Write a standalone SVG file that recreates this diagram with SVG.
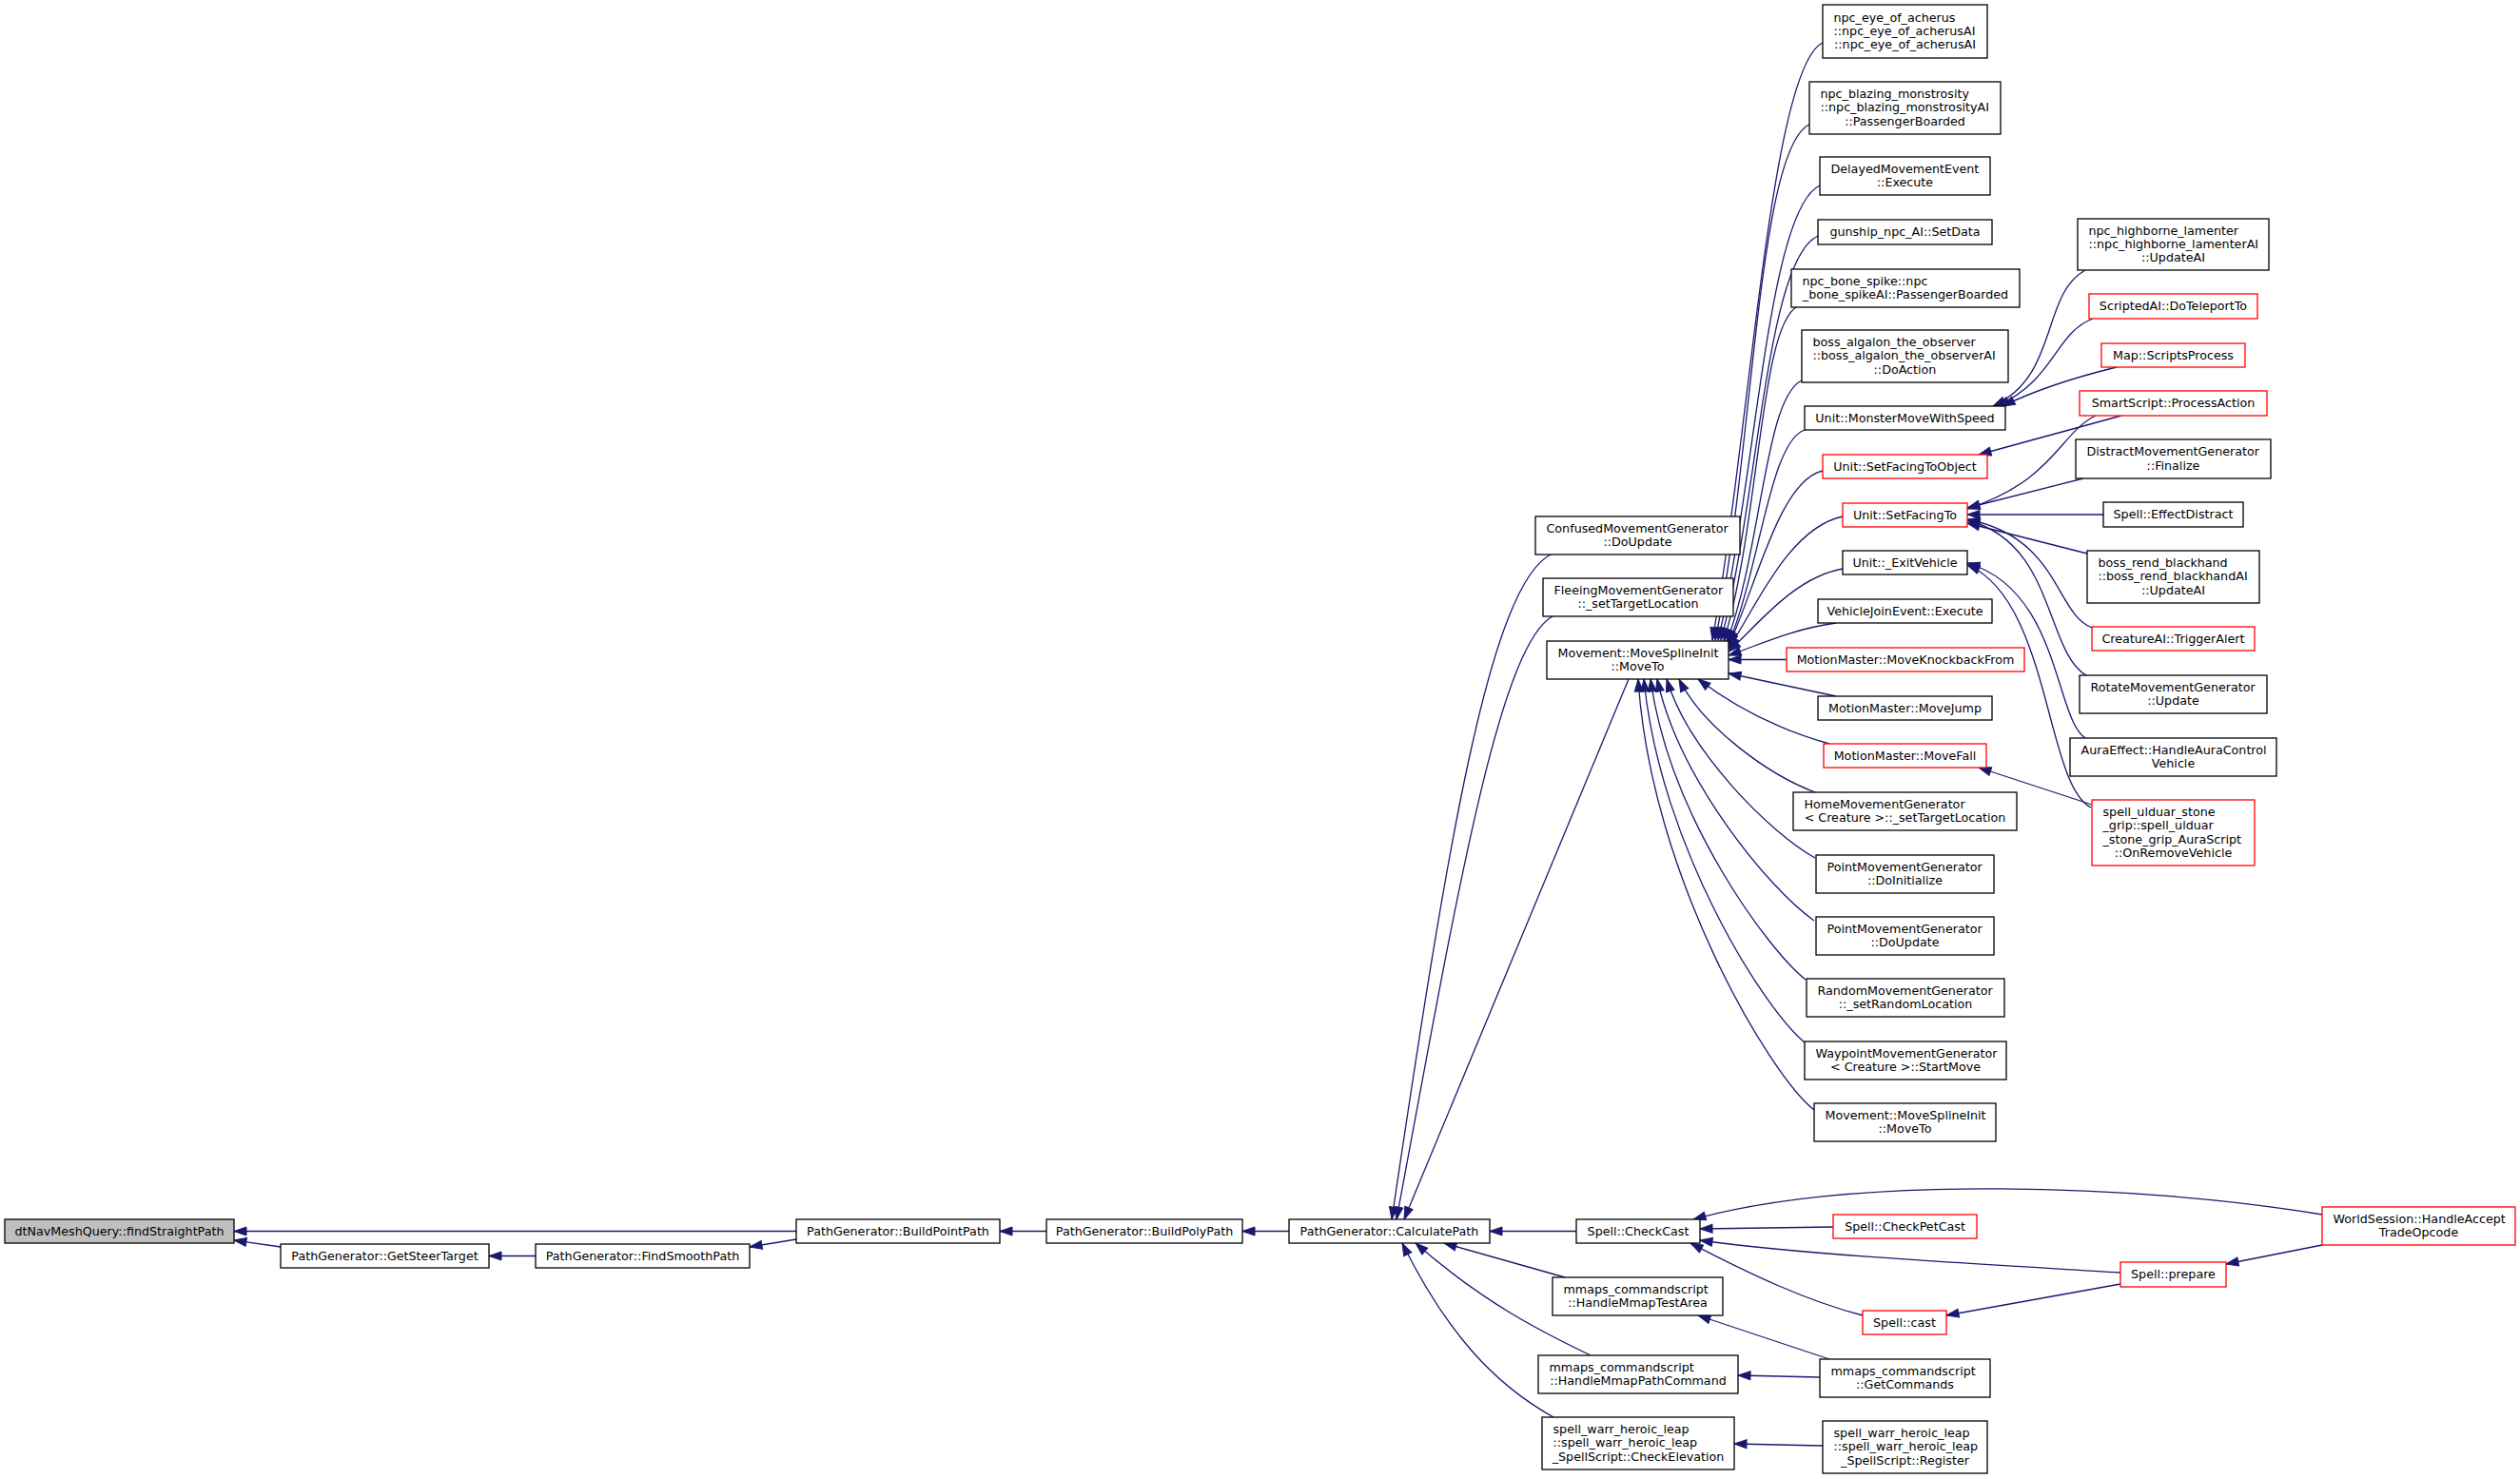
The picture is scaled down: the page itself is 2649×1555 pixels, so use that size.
<svg xmlns="http://www.w3.org/2000/svg" width="2649" height="1555" viewBox="0 0 2649 1555">
<style>
.n rect{fill:#fff;stroke:#000;stroke-width:1.3}
.n.r rect{stroke:#f00}
.n.g rect{fill:#bfbfbf}
text{font-family:"DejaVu Sans","Liberation Sans",sans-serif;font-size:12.7px;fill:#000}
.m{text-anchor:middle}
#edges path{fill:none;stroke:#191970;stroke-width:1.3;marker-end:url(#a)}
</style>
<defs>
<marker id="a" markerUnits="userSpaceOnUse" markerWidth="14" markerHeight="10" refX="13" refY="4.5" orient="auto" overflow="visible">
<path d="M0,0 L13,4.5 L0,9 z" fill="#191970" stroke="#191970" stroke-width="1"/>
</marker>
</defs>
<rect width="2649" height="1555" fill="#fff"/>
<g id="edges">
<path d="M837,1294.5 L246,1294.5"/>
<path d="M295,1311 L246,1304"/>
<path d="M563,1320.5 L514,1320.5"/>
<path d="M837,1303 L788,1311"/>
<path d="M1100,1294.5 L1051,1294.5"/>
<path d="M1355,1294.5 L1306,1294.5"/>
<path d="M1657,1294.5 L1566,1294.5"/>
<path d="M1632,582 C1565,612 1520,900 1463,1282"/>
<path d="M1632,648 C1575,680 1530,950 1468,1282"/>
<path d="M1712,714 L1476,1282"/>
<path d="M1645,1343 L1518,1307"/>
<path d="M1672,1425 C1620,1400 1560,1370 1488,1307"/>
<path d="M1633,1490 C1570,1455 1520,1400 1474,1307"/>
<path d="M2441,1277 C2250,1245 1950,1235 1780,1282"/>
<path d="M1927,1290 L1787,1292"/>
<path d="M2229,1338 C2100,1330 1900,1320 1787,1304"/>
<path d="M1958,1383 C1900,1368 1840,1340 1777,1307"/>
<path d="M2441,1309 L2340,1329"/>
<path d="M2229,1350 L2046,1383"/>
<path d="M1923,1429 L1785,1383"/>
<path d="M1913,1448 L1827,1446"/>
<path d="M1916,1520 L1823,1518"/>
<path d="M1916,45 C1861,70 1840,453 1800,673"/>
<path d="M1902,131 C1847,156 1843,483 1803,673"/>
<path d="M1913,195 C1858,220 1846,505 1806,673"/>
<path d="M1911,248 C1856,273 1849,524 1809,673"/>
<path d="M1890,322 C1850,340 1850,550 1812,674"/>
<path d="M1894,400 C1855,418 1852,578 1815,675"/>
<path d="M1897,452 C1860,465 1850,598 1817,677"/>
<path d="M1916,495 C1870,505 1845,620 1817,679"/>
<path d="M1937,543 C1880,555 1845,640 1817,682"/>
<path d="M1937,598 C1885,607 1845,660 1817,685"/>
<path d="M1930,655 C1880,662 1845,680 1817,689"/>
<path d="M1878,693.5 L1817,693.5"/>
<path d="M1930,732 L1817,708"/>
<path d="M1923,782 C1880,770 1830,748 1785,714"/>
<path d="M1908,833 C1860,815 1790,765 1765,714"/>
<path d="M1908,902 C1860,875 1775,790 1752,714"/>
<path d="M1907,968 C1860,935 1765,820 1742,714"/>
<path d="M1898,1030 C1860,1000 1755,860 1735,714"/>
<path d="M1897,1096 C1855,1062 1745,890 1728,714"/>
<path d="M1907,1167 C1860,1130 1735,920 1722,714"/>
<path d="M2192,284 C2145,310 2165,395 2095,427"/>
<path d="M2200,335 C2160,350 2160,400 2099,427"/>
<path d="M2225,386 C2180,397 2140,410 2105,427"/>
<path d="M2230,437 L2080,478"/>
<path d="M2203,437 C2165,455 2160,505 2068,535"/>
<path d="M2190,503 L2068,534"/>
<path d="M2211,541 L2068,541"/>
<path d="M2194,582 L2068,550"/>
<path d="M2199,660 C2160,645 2165,565 2068,546"/>
<path d="M2193,710 C2150,685 2160,570 2068,547"/>
<path d="M2192,776 C2160,755 2165,620 2068,592"/>
<path d="M2198,849 C2150,825 2155,630 2068,594"/>
<path d="M2199,846 L2080,807"/>
</g>
<g id="n0" class="n g"><rect x="5" y="1282" width="241" height="25"/><text class="m" x="125.5" y="1298.8">dtNavMeshQuery::findStraightPath</text></g>
<g id="n1" class="n"><rect x="295" y="1308" width="219" height="25"/><text class="m" x="404.5" y="1324.8">PathGenerator::GetSteerTarget</text></g>
<g id="n2" class="n"><rect x="563" y="1308" width="225" height="25"/><text class="m" x="675.5" y="1324.8">PathGenerator::FindSmoothPath</text></g>
<g id="n3" class="n"><rect x="837" y="1282" width="214" height="25"/><text class="m" x="944" y="1298.8">PathGenerator::BuildPointPath</text></g>
<g id="n4" class="n"><rect x="1100" y="1282" width="206" height="25"/><text class="m" x="1203" y="1298.8">PathGenerator::BuildPolyPath</text></g>
<g id="n5" class="n"><rect x="1355" y="1282" width="211" height="25"/><text class="m" x="1460.5" y="1298.8">PathGenerator::CalculatePath</text></g>
<g id="n6" class="n"><rect x="1614" y="543" width="215" height="40"/><text x="1625.5" y="559.7">ConfusedMovementGenerator</text><text class="m" x="1721.5" y="574">::DoUpdate</text></g>
<g id="n7" class="n"><rect x="1622" y="608" width="200" height="40"/><text x="1633.5" y="624.7">FleeingMovementGenerator</text><text class="m" x="1722" y="639">::_setTargetLocation</text></g>
<g id="n8" class="n"><rect x="1626" y="674" width="191" height="40"/><text x="1637.5" y="690.7">Movement::MoveSplineInit</text><text class="m" x="1721.5" y="705">::MoveTo</text></g>
<g id="n9" class="n"><rect x="1657" y="1282" width="130" height="25"/><text class="m" x="1722" y="1298.8">Spell::CheckCast</text></g>
<g id="n10" class="n"><rect x="1632" y="1343" width="179" height="40"/><text x="1643.5" y="1359.7">mmaps_commandscript</text><text class="m" x="1721.5" y="1374">::HandleMmapTestArea</text></g>
<g id="n11" class="n"><rect x="1617" y="1425" width="210" height="40"/><text x="1628.5" y="1441.7">mmaps_commandscript</text><text class="m" x="1722" y="1456">::HandleMmapPathCommand</text></g>
<g id="n12" class="n"><rect x="1621" y="1490" width="202" height="55"/><text x="1632.5" y="1507">spell_warr_heroic_leap</text><text x="1632.5" y="1521.3">::spell_warr_heroic_leap</text><text class="m" x="1722" y="1535.6">_SpellScript::CheckElevation</text></g>
<g id="n13" class="n"><rect x="1916" y="5" width="173" height="56"/><text x="1927.5" y="22.5">npc_eye_of_acherus</text><text x="1927.5" y="36.8">::npc_eye_of_acherusAI</text><text class="m" x="2002.5" y="51.1">::npc_eye_of_acherusAI</text></g>
<g id="n14" class="n"><rect x="1902" y="86" width="201" height="55"/><text x="1913.5" y="103">npc_blazing_monstrosity</text><text x="1913.5" y="117.3">::npc_blazing_monstrosityAI</text><text class="m" x="2002.5" y="131.6">::PassengerBoarded</text></g>
<g id="n15" class="n"><rect x="1913" y="165" width="179" height="40"/><text x="1924.5" y="181.7">DelayedMovementEvent</text><text class="m" x="2002.5" y="196">::Execute</text></g>
<g id="n16" class="n"><rect x="1911" y="231" width="183" height="26"/><text class="m" x="2002.5" y="248.3">gunship_npc_AI::SetData</text></g>
<g id="n17" class="n"><rect x="1883" y="283" width="240" height="40"/><text x="1894.5" y="299.7">npc_bone_spike::npc</text><text class="m" x="2003" y="314">_bone_spikeAI::PassengerBoarded</text></g>
<g id="n18" class="n"><rect x="1894" y="347" width="217" height="55"/><text x="1905.5" y="364">boss_algalon_the_observer</text><text x="1905.5" y="378.3">::boss_algalon_the_observerAI</text><text class="m" x="2002.5" y="392.6">::DoAction</text></g>
<g id="n19" class="n"><rect x="1897" y="427" width="211" height="25"/><text class="m" x="2002.5" y="443.8">Unit::MonsterMoveWithSpeed</text></g>
<g id="n20" class="n r"><rect x="1916" y="478" width="173" height="25"/><text class="m" x="2002.5" y="494.8">Unit::SetFacingToObject</text></g>
<g id="n21" class="n r"><rect x="1937" y="529" width="131" height="25"/><text class="m" x="2002.5" y="545.8">Unit::SetFacingTo</text></g>
<g id="n22" class="n"><rect x="1937" y="579" width="131" height="25"/><text class="m" x="2002.5" y="595.8">Unit::_ExitVehicle</text></g>
<g id="n23" class="n"><rect x="1911" y="630" width="183" height="25"/><text class="m" x="2002.5" y="646.8">VehicleJoinEvent::Execute</text></g>
<g id="n24" class="n r"><rect x="1878" y="681" width="250" height="25"/><text class="m" x="2003" y="697.8">MotionMaster::MoveKnockbackFrom</text></g>
<g id="n25" class="n"><rect x="1911" y="732" width="183" height="25"/><text class="m" x="2002.5" y="748.8">MotionMaster::MoveJump</text></g>
<g id="n26" class="n r"><rect x="1917" y="782" width="171" height="25"/><text class="m" x="2002.5" y="798.8">MotionMaster::MoveFall</text></g>
<g id="n27" class="n"><rect x="1885" y="833" width="235" height="40"/><text x="1896.5" y="849.7">HomeMovementGenerator</text><text class="m" x="2002.5" y="864">&lt; Creature &gt;::_setTargetLocation</text></g>
<g id="n28" class="n"><rect x="1909" y="899" width="187" height="40"/><text x="1920.5" y="915.7">PointMovementGenerator</text><text class="m" x="2002.5" y="930">::DoInitialize</text></g>
<g id="n29" class="n"><rect x="1909" y="964" width="187" height="40"/><text x="1920.5" y="980.7">PointMovementGenerator</text><text class="m" x="2002.5" y="995">::DoUpdate</text></g>
<g id="n30" class="n"><rect x="1899" y="1029" width="208" height="40"/><text x="1910.5" y="1045.7">RandomMovementGenerator</text><text class="m" x="2003" y="1060">::_setRandomLocation</text></g>
<g id="n31" class="n"><rect x="1897" y="1095" width="212" height="40"/><text x="1908.5" y="1111.7">WaypointMovementGenerator</text><text class="m" x="2003" y="1126">&lt; Creature &gt;::StartMove</text></g>
<g id="n32" class="n"><rect x="1907" y="1160" width="191" height="40"/><text x="1918.5" y="1176.7">Movement::MoveSplineInit</text><text class="m" x="2002.5" y="1191">::MoveTo</text></g>
<g id="n33" class="n r"><rect x="1927" y="1277" width="151" height="25"/><text class="m" x="2002.5" y="1293.8">Spell::CheckPetCast</text></g>
<g id="n34" class="n r"><rect x="1958" y="1378" width="88" height="25"/><text class="m" x="2002" y="1394.8">Spell::cast</text></g>
<g id="n35" class="n"><rect x="1913" y="1429" width="179" height="40"/><text x="1924.5" y="1445.7">mmaps_commandscript</text><text class="m" x="2002.5" y="1460">::GetCommands</text></g>
<g id="n36" class="n"><rect x="1916" y="1494" width="173" height="55"/><text x="1927.5" y="1511">spell_warr_heroic_leap</text><text x="1927.5" y="1525.3">::spell_warr_heroic_leap</text><text class="m" x="2002.5" y="1539.6">_SpellScript::Register</text></g>
<g id="n37" class="n"><rect x="2184" y="230" width="201" height="54"/><text x="2195.5" y="246.5">npc_highborne_lamenter</text><text x="2195.5" y="260.8">::npc_highborne_lamenterAI</text><text class="m" x="2284.5" y="275.1">::UpdateAI</text></g>
<g id="n38" class="n r"><rect x="2196" y="309" width="177" height="26"/><text class="m" x="2284.5" y="326.3">ScriptedAI::DoTeleportTo</text></g>
<g id="n39" class="n r"><rect x="2209" y="361" width="151" height="25"/><text class="m" x="2284.5" y="377.8">Map::ScriptsProcess</text></g>
<g id="n40" class="n r"><rect x="2186" y="411" width="197" height="26"/><text class="m" x="2284.5" y="428.3">SmartScript::ProcessAction</text></g>
<g id="n41" class="n"><rect x="2182" y="462" width="205" height="41"/><text x="2193.5" y="479.2">DistractMovementGenerator</text><text class="m" x="2284.5" y="493.5">::Finalize</text></g>
<g id="n42" class="n"><rect x="2211" y="528" width="147" height="26"/><text class="m" x="2284.5" y="545.3">Spell::EffectDistract</text></g>
<g id="n43" class="n"><rect x="2194" y="579" width="181" height="55"/><text x="2205.5" y="596">boss_rend_blackhand</text><text x="2205.5" y="610.3">::boss_rend_blackhandAI</text><text class="m" x="2284.5" y="624.6">::UpdateAI</text></g>
<g id="n44" class="n r"><rect x="2199" y="659" width="171" height="25"/><text class="m" x="2284.5" y="675.8">CreatureAI::TriggerAlert</text></g>
<g id="n45" class="n"><rect x="2186" y="710" width="197" height="40"/><text x="2197.5" y="726.7">RotateMovementGenerator</text><text class="m" x="2284.5" y="741">::Update</text></g>
<g id="n46" class="n"><rect x="2176" y="776" width="217" height="40"/><text x="2187.5" y="792.7">AuraEffect::HandleAuraControl</text><text class="m" x="2284.5" y="807">Vehicle</text></g>
<g id="n47" class="n r"><rect x="2199" y="841" width="171" height="69"/><text x="2210.5" y="857.9">spell_ulduar_stone</text><text x="2210.5" y="872.2">_grip::spell_ulduar</text><text x="2210.5" y="886.5">_stone_grip_AuraScript</text><text class="m" x="2284.5" y="900.8">::OnRemoveVehicle</text></g>
<g id="n48" class="n r"><rect x="2229" y="1327" width="111" height="26"/><text class="m" x="2284.5" y="1344.3">Spell::prepare</text></g>
<g id="n49" class="n r"><rect x="2441" y="1269" width="203" height="40"/><text x="2452.5" y="1285.7">WorldSession::HandleAccept</text><text class="m" x="2542.5" y="1300">TradeOpcode</text></g>
</svg>
